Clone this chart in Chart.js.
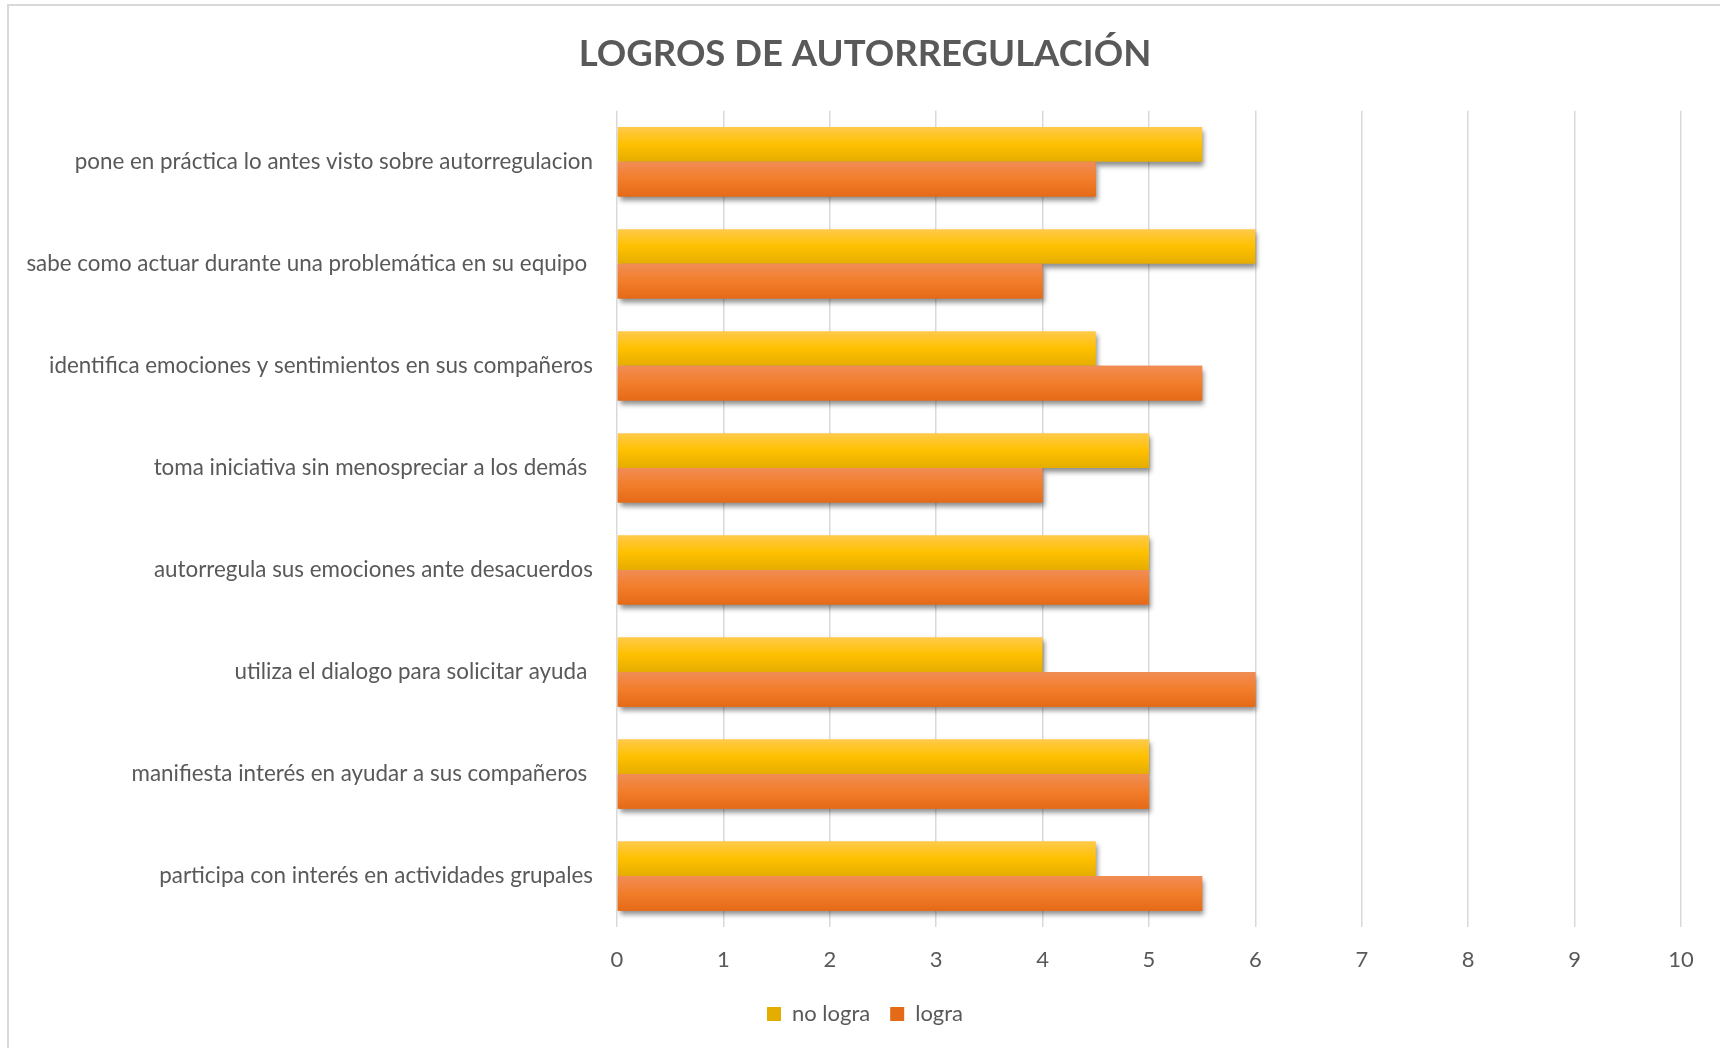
<!DOCTYPE html>
<html>
<head>
<meta charset="utf-8">
<title>Logros de autorregulación</title>
<script src="https://cdn.jsdelivr.net/npm/chart.js@4/dist/chart.umd.min.js"></script>
<style>
  html, body { margin: 0; padding: 0; background: #fff; overflow: hidden; }
  #wrap { width: 1720px; height: 1048px; position: relative; }
</style>
</head>
<body>
<div id="wrap"><canvas id="logrosChart"></canvas></div>
<script>
// indicadores, de arriba hacia abajo
const categorias = [
    'pone en práctica lo antes visto sobre autorregulacion',
    'sabe como actuar durante una problemática en su equipo ',
    'identifica emociones y sentimientos en sus compañeros',
    'toma iniciativa sin menospreciar a los demás ',
    'autorregula sus emociones ante desacuerdos',
    'utiliza el dialogo para solicitar ayuda ',
    'manifiesta interés en ayudar a sus compañeros ',
    'participa con interés en actividades grupales'
];
const noLogra = [5.5, 6, 4.5, 5, 5, 4, 5, 4.5];
const logra = [4.5, 4, 5.5, 4, 5, 6, 5, 5.5];

const PCT_CATEGORIA = 0.68;
const GRIS_TEXTO = '#595959';
const FUENTE = 'Lato, "Open Sans", sans-serif';

// degradado vertical dentro de cada barra
function degradado(ctx, colores) {
    const chart = ctx.chart;
    const y = chart.scales.y;
    if (!chart.chartArea || !y || ctx.dataIndex === undefined) return colores[1];
    const banda = y.height / categorias.length;
    const grosor = banda * PCT_CATEGORIA / 2;
    const centro = y.getPixelForValue(ctx.dataIndex);
    const arriba = ctx.datasetIndex === 0 ? centro - grosor : centro;
    const g = chart.ctx.createLinearGradient(0, arriba, 0, arriba + grosor);
    g.addColorStop(0, colores[0]);
    g.addColorStop(0.5, colores[1]);
    g.addColorStop(1, colores[2]);
    return g;
}

const marco = {
    id: 'marco',
    afterLayout(chart) {
        // las etiquetas largas del eje Y no se recortan en el margen izquierdo
        chart.scales.y.left = 0;
    },
    beforeDraw(chart) {
        const c = chart.ctx;
        c.save();
        c.fillStyle = '#fff';
        c.fillRect(0, 0, chart.width, chart.height);
        c.strokeStyle = '#d9d9d9';
        c.lineWidth = 2;
        c.beginPath();
        c.moveTo(8, chart.height);
        c.lineTo(8, 5);
        c.lineTo(chart.width, 5);
        c.stroke();
        c.restore();
    }
};

const sombraBarras = {
    id: 'sombraBarras',
    beforeDatasetDraw(chart) {
        const c = chart.ctx;
        c.save();
        c.shadowColor = 'rgba(0, 0, 0, 0.45)';
        c.shadowBlur = 5;
        c.shadowOffsetX = 2;
        c.shadowOffsetY = 4;
    },
    afterDatasetDraw(chart) {
        chart.ctx.restore();
    },
    afterDatasetsDraw(chart) {
        // se repintan las barras naranjas para tapar la sombra de las amarillas
        chart.getDatasetMeta(1).data.forEach(barra => barra.draw(chart.ctx));
    }
};

new Chart(document.getElementById('logrosChart'), {
    type: 'bar',
    data: {
        labels: categorias,
        datasets: [{
            label: 'no logra',
            data: noLogra,
            backgroundColor: ctx => degradado(ctx, ['#ffca4b', '#ffc000', '#e5ad00']),
            borderWidth: 0,
            categoryPercentage: PCT_CATEGORIA,
            barPercentage: 1
        }, {
            label: 'logra',
            data: logra,
            backgroundColor: ctx => degradado(ctx, ['#f18d55', '#f27d2a', '#e56a18']),
            borderWidth: 0,
            categoryPercentage: PCT_CATEGORIA,
            barPercentage: 1
        }]
    },
    options: {
        indexAxis: 'y',
        responsive: true,
        maintainAspectRatio: false,
        animation: false,
        layout: { padding: { left: 49, right: 39, top: 0, bottom: 13 } },
        scales: {
            x: {
                min: 0,
                max: 10,
                ticks: { stepSize: 1, color: GRIS_TEXTO, padding: 20, font: { family: FUENTE, size: 22 } },
                grid: { color: '#d9d9d9', lineWidth: 1.5, drawTicks: false },
                border: { display: false },
                afterFit(scale) { scale.height = 56; }
            },
            y: {
                ticks: { color: GRIS_TEXTO, padding: 16, font: { family: FUENTE, size: 22.4 } },
                grid: { display: false },
                border: { display: false },
                afterFit(scale) { scale.width = 568; }
            }
        },
        plugins: {
            title: {
                display: true,
                text: 'LOGROS DE AUTORREGULACIÓN',
                color: GRIS_TEXTO,
                font: { family: FUENTE, size: 36.5, weight: 'bold' },
                padding: { top: 32, bottom: 35 }
            },
            legend: {
                position: 'bottom',
                labels: {
                    color: GRIS_TEXTO,
                    boxWidth: 14,
                    boxHeight: 14,
                    padding: 20,
                    font: { family: FUENTE, size: 22 }
                }
            },
            tooltip: { enabled: false }
        }
    },
    plugins: [marco, sombraBarras]
});
</script>
</body>
</html>
